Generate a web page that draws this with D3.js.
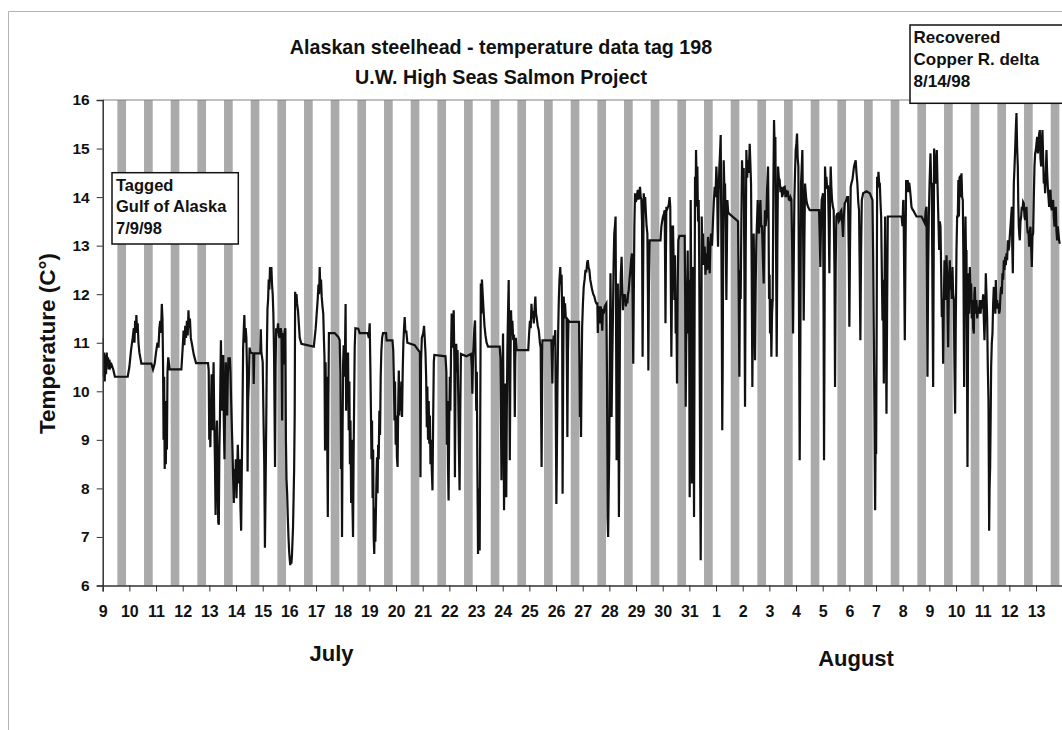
<!DOCTYPE html>
<html>
<head>
<meta charset="utf-8">
<script src="https://cdn.jsdelivr.net/npm/d3@7"></script>
<style>
  html, body { margin: 0; padding: 0; background: #ffffff; }
  svg { display: block; font-family: "Liberation Sans", Arial, Helvetica, sans-serif; font-weight: bold; }
</style>
</head>
<body>
<svg id="chart" width="1062" height="730"></svg>
<script>
// ---- data -------------------------------------------------------------
// Tag deployment window (UTC dates): tagged 7/9/98, recovered 8/14/98
const tagStart = Date.UTC(1998, 6, 9);
const tagEnd = Date.UTC(1998, 7, 14);

// Daily dark period, hours after midnight (shaded bands)
const nightStartHour = 13.2;
const nightEndHour = 21.0;

const tempTicks = [6, 7, 8, 9, 10, 11, 12, 13, 14, 15, 16];
const monthNames = ["July", "August"];
const titleLines = ["Alaskan steelhead - temperature data tag 198", "U.W. High Seas Salmon Project"];
const yAxisTitle = "Temperature (C\u00B0)";
const taggedNote = ["Tagged", "Gulf of Alaska", "7/9/98"];
const recoveredNote = ["Recovered", "Copper R. delta", "8/14/98"];

// Tag readings: [hours since 7/9/98 00:00, temperature °C]
const readings = [
  [0,11.1],[0.6,10.3],[1.2,10.8],[1.8,10.2],[2.4,10.75],[3,10.35],[3.6,10.8],[4.2,10.5],[4.8,10.7],[5.4,10.45],[6,10.65],[7,10.5],[8,10.55],[9.5,10.45],[11,10.3],[22.5,10.3],[24,10.5],[25.5,10.85],[27,11.1],[28,11.3],[28.6,11.0],[29.2,11.45],[29.8,11.2],[30.3,11.57],[30.9,11.25],[31.5,11.4],[32.2,11.0],[33,10.8],[34.8,10.57],[43.8,10.57],[45.3,10.45],[46.8,10.57],[48,10.8],[49.3,11.0],[50.2,10.9],[51,11.3],[51.8,11.45],[52.5,11.2],[53.2,11.8],[53.8,11.5],[54.3,10.6],[54.8,9.0],[55.3,10.3],[55.8,8.4],[56.3,9.8],[56.8,8.5],[57.3,9.4],[57.8,8.8],[58.3,10.4],[59,10.7],[60.3,10.45],[70.8,10.45],[72,10.9],[72.8,11.25],[73.5,10.95],[74.3,11.35],[75,11.1],[75.8,11.45],[76.5,11.15],[77.2,11.67],[77.8,11.3],[78.5,11.5],[79.3,11.1],[80.5,10.95],[82,10.75],[84,10.58],[94.8,10.58],
  [95.4,10.43],[95.9,9.0],[96.4,9.4],[96.9,8.85],[97.4,9.6],[98,10.35],[98.6,9.2],[99.2,9.8],[99.8,10.6],[100.4,9.4],[101,8.6],[101.6,7.45],[102.2,8.9],[102.8,9.4],[103.4,8.2],[104,7.3],[104.5,7.25],[105,8.8],[105.5,9.4],[106,10.4],[106.4,11.05],[106.9,10.2],[107.4,9.6],[107.9,10.4],[108.5,10.75],[109,9.4],[109.6,8.6],[110.2,9.8],[110.8,10.6],[111.4,9.9],[112,9.5],[112.6,10.3],[113.2,10.7],[113.8,10.55],[114.4,10.7],[115,10.4],[115.6,9.8],[116.2,9.3],[116.8,8.8],[117.4,8.2],[118,7.7],[118.6,8.4],[119.2,8.0],[119.8,8.6],[120.4,7.8],[121,8.3],[121.6,8.9],[122.2,8.4],[122.8,8.1],[123.4,8.6],[124,7.6],[124.6,7.13],[125.2,8.4],[125.8,9.6],[126.4,10.9],[127,11.3],[127.5,11.57],[128.1,11.0],[128.7,11.3],[129.3,11.1],[129.9,10.4],[130.4,8.35],[130.9,9.8],[131.5,10.2],[132.2,10.9],[133,10.8],[135.5,10.78],[135.9,10.15],[136.4,10.78],[141.8,10.78],[142.3,11.28],[142.8,10.8],[144,10.6],[144.8,9.3],[145.4,8.5],[146,6.78],[146.6,8.0],[147.2,9.4],[147.8,10.9],[148.3,11.7],[148.9,11.9],[149.4,12.3],[150,12.1],[150.6,12.56],[151.2,12.25],[151.8,12.56],[152.4,12.2],[153,12.0],[153.6,11.6],[154.2,10.8],[154.7,9.5],[155.1,8.44],[155.6,10.5],[156.1,11.3],[157,11.2],[157.8,11.4],[158.5,11.15],[159.3,11.1],[160.2,11.3],[160.9,11.2],[161.5,9.4],[162,11.2],[162.8,11.15],[163.3,10.55],[163.8,11.25],[164.4,11.3],[164.9,9.0],[165.4,8.2],[166,7.9],[166.6,7.4],[167.2,7.0],[167.8,6.7],[168.3,6.55],[168.8,6.42],[169.3,6.6],[169.8,6.45],[170.3,6.6],[170.8,6.9],[171.3,7.2],[171.8,7.8],[172.3,8.4],[172.8,9.5],[173.2,12.05],[173.8,11.85],[174.4,12.0],[175,11.8],[175.8,11.65],[176.5,11.4],[177.3,11.1],[178.8,10.98],[186,10.94],[190,10.92],
  [191.7,11.3],[192.6,11.6],[193.5,11.9],[194.2,12.2],[194.8,12.0],[195.3,12.56],[195.9,12.1],[196.5,12.3],[197.1,11.95],[197.8,11.75],[198.5,11.6],[199.2,11.0],[199.6,10.7],[200.1,8.78],[200.6,10.6],[201.1,9.4],[201.6,10.3],[202.1,8.9],[202.6,7.41],[203.1,9.8],[203.6,11.2],[208.8,11.2],[212,11.12],[213.3,11.05],[213.9,10.4],[214.4,8.4],[214.9,9.6],[215.4,7.0],[215.9,9.2],[216.4,10.6],[216.9,10.95],[217.5,10.3],[218.1,10.9],[218.6,11.8],[219.1,9.6],[219.6,10.7],[220.2,9.8],[220.8,10.8],[221.4,9.2],[222,10.2],[222.5,8.5],[223,9.4],[223.6,7.7],[224.2,9.0],[224.7,7.8],[225.3,7.0],[225.8,8.6],[226.3,9.8],[226.8,10.9],[227.4,11.3],[230,11.29],[231.3,11.2],[238.5,11.2],[239.5,11.1],[240.3,11.4],[240.9,10.5],[241.4,9.6],[241.9,8.6],[242.4,9.4],[242.9,7.8],[243.4,8.8],[243.9,7.0],[244.4,6.65],[244.9,7.6],[245.4,6.9],[245.9,7.55],[246.4,8.2],[246.9,8.64],[247.4,7.9],[247.9,8.9],[248.4,8.6],[249,9.6],[249.6,9.1],[250.2,10.3],[250.8,10.84],[251.5,11.1],[252.3,11.2],[255,11.2],[255.5,11.05],[260.8,11.05],[261.5,10.84],[262,10.3],[262.6,9.4],[263.1,10.2],[263.7,8.9],[264.3,9.5],[264.8,8.64],[265.4,8.44],[265.9,9.6],[266.5,10.43],[267,9.5],[267.6,10.1],[268.2,9.6],[268.8,10.2],[269.4,9.47],[270,10.4],[270.6,10.98],[271.2,11.3],[271.8,11.53],[272.4,11.2],[273.2,11.25],[274.2,11.0],[280.8,10.95],[284,10.85],[285.5,10.8],[286,8.23],[286.5,10.6],[287.2,11.1],[288.5,11.2],[289.2,11.35],[289.8,11.1],[290.5,10.8],[291.1,10.3],[291.7,9.26],[292.2,10.1],[292.8,9.0],[293.4,9.8],[293.9,8.92],[294.5,9.5],[295,8.5],[295.6,9.0],[296.2,8.37],[296.8,7.96],[297.4,9.4],[298,10.6],[298.5,10.75],[308.5,10.72],[309.3,10.4],[309.8,8.9],[310.3,9.8],[310.8,8.4],[311.3,7.75],[311.8,9.2],[312.4,10.3],[312.9,9.6],[313.5,10.8],[314.1,11.6],[314.7,10.9],[315.3,11.4],[315.9,11.67],[316.5,10.6],[317,8.23],[317.6,10.4],[318.2,10.98],[318.8,10.4],[319.4,10.85],[320,9.9],[320.6,8.8],[321.2,7.96],[321.8,9.6],[322.4,10.77],[327.3,10.72],[331.5,10.77],[332.2,10.5],[332.7,9.95],[333.3,10.7],[333.9,11.0],[334.5,11.3],[335.1,11.46],[335.7,10.5],[336.2,9.6],[336.7,10.4],[337.2,8.5],[337.8,6.65],[338.3,8.0],[338.8,7.2],[339.3,6.72],[339.8,9.5],[340.3,12.22],[340.8,11.6],[341.3,12.3],[342,12.0],[342.7,11.7],[343.6,11.35],[344.5,11.15],[345.5,11.0],[346.8,10.92],[357.3,10.92],
  [357.9,10.7],[358.4,9.6],[358.9,8.17],[359.4,9.9],[359.9,10.6],[360.3,11.19],[360.8,9.4],[361.2,7.55],[361.7,8.9],[362.2,10.16],[362.7,9.0],[363.2,7.82],[363.7,9.6],[364.2,10.85],[364.8,11.6],[365.4,12.29],[365.9,10.5],[366.4,8.58],[366.9,10.4],[367.5,11.67],[368.1,11.2],[368.7,11.45],[369.4,11.1],[370.2,11.12],[370.6,10.2],[370.9,9.47],[371.3,10.6],[371.8,11.1],[372.6,10.85],[383,10.85],[383.8,11.2],[384.5,11.45],[385.2,11.3],[385.9,11.8],[386.6,11.5],[387.3,11.65],[388,11.4],[388.7,11.7],[389.4,11.95],[390,11.6],[390.7,11.5],[391.5,11.35],[392.5,11.25],[393.5,11.0],[394.2,10.9],[394.6,9.5],[395,8.44],[395.4,9.8],[395.8,11.05],[403.8,11.05],[404.3,10.6],[404.7,10.16],[405.2,10.9],[405.9,11.15],[406.6,11.0],[407.3,11.26],[407.8,9.5],[408.3,7.68],[408.8,8.8],[409.3,10.16],[409.9,11.2],[410.5,11.88],[411.1,12.3],[411.8,12.56],[412.4,12.2],[413,12.4],[413.5,11.6],[413.9,7.89],[414.4,10.2],[414.9,11.95],[415.5,11.6],[416.1,11.81],[416.8,11.5],[417.4,11.53],[417.9,10.2],[418.2,9.06],[418.7,10.8],[419.2,11.46],[420.3,11.43],[428.7,11.43],[429.1,10.5],[429.5,9.47],[430,10.3],[430.5,9.06],[431,10.4],[431.5,11.33],[432.2,11.8],[432.9,12.15],[433.7,12.3],[434.5,12.5],[435.3,12.45],[436,12.65],[436.6,12.7],[437.3,12.55],[438,12.5],[438.8,12.3],[439.6,12.2],[440.4,12.1],[441.5,12.0],[442.5,11.95],[443.5,11.85],[444.3,11.81],[445.2,11.81],[445.6,11.2],[446,11.75],[447,11.7],[447.6,11.4],[448.2,11.75],[449,11.55],[449.6,11.25],[450.2,11.7],[451,11.6],[451.8,11.75],[453.3,11.81],[453.9,10.2],[454.4,7.41],[454.9,7.0],[455.4,8.0],[455.9,8.78],[456.4,10.8],[457,12.43],[457.5,11.2],[458,9.47],[458.6,10.6],[459.2,11.53],[459.8,12.6],[460.4,13.25],[461,13.4],[461.6,13.6],[462.1,11.0],[462.5,8.58],[463,10.5],[463.6,12.22],[464.1,10.2],[464.6,7.41],[465.1,9.5],[465.7,11.88],[466.3,12.4],[467,12.77],[467.6,12.2],[468.2,11.67],[468.8,12.0],[469.5,11.9],[470.1,12.0],[470.8,11.75],[471.5,11.9],[472.2,11.81],[472.8,12.0],[473.4,12.08],[474.1,12.3],[474.9,12.5],[475.6,12.7],[476.3,12.84],[476.9,12.0],[477.5,10.57],[478,12.0],[478.5,13.4],[479.1,14.08],[479.7,13.9],[480.3,13.94],[480.9,14.05],[481.6,14.15],[482.3,13.95],[483,14.1],[483.6,14.21],[484.2,14.0],[484.8,13.95],[485.4,13.5],[485.9,10.71],[486.4,12.5],[486.9,14.08],[487.5,13.9],[488.2,14.0],[488.8,13.7],[489.5,13.4],[490.2,13.25],[490.7,12.0],[491.1,10.43],[491.6,12.2],[492.3,13.11],[502,13.11],[502.8,13.39],[503.5,13.5],[504.3,13.6],[505,13.65],[505.8,13.73],[506.2,12.5],[506.5,11.4],[506.9,12.8],[507.3,13.8],[508,13.75],[508.8,13.8],[509.5,13.85],[510.2,14.0],[510.8,13.8],[511.3,12.2],[511.8,10.71],[512.3,12.0],[512.8,13.39],
  [513.3,13.39],[513.9,12.6],[514.5,11.88],[515.1,12.8],[515.7,11.19],[516.3,11.8],[516.9,10.16],[517.5,12.2],[518.1,13.11],[519,13.2],[523.8,13.2],[524.2,12.0],[524.7,9.68],[525.2,11.0],[525.9,11.88],[526.5,12.9],[527.1,11.19],[527.7,12.3],[528.3,7.82],[528.8,11.0],[529.2,13.94],[529.8,11.5],[530.4,8.1],[530.9,10.5],[531.3,12.56],[531.8,10.0],[532.2,7.41],[532.7,11.5],[533.1,14.42],[533.6,13.8],[534,14.97],[534.6,14.3],[535.2,14.63],[535.8,13.5],[536.4,13.94],[536.9,12.5],[537.3,10.5],[537.8,8.0],[538.2,6.52],[538.7,9.0],[539.1,13.6],[539.7,12.9],[540.3,13.25],[541,12.6],[541.8,12.98],[542.5,12.4],[543.3,12.84],[544,12.5],[544.8,13.18],[545.5,12.8],[546.3,12.43],[546.9,13.0],[547.5,13.25],[548.4,13.0],[549.3,13.53],[550,13.9],[550.8,14.21],[551.5,14.0],[552.3,14.63],[553,14.2],[553.5,13.3],[553.8,12.98],[554.4,14.1],[555,14.63],[555.6,14.9],[556.2,15.28],[556.7,13.5],[557.1,11.88],[557.6,9.2],[558,10.5],[558.5,13.5],[558.9,14.76],[559.5,14.2],[560.1,14.28],[560.7,13.3],[561.3,11.88],[561.8,13.0],[562.2,13.94],[562.9,13.7],[563.7,13.66],[571.8,13.5],[572.4,12.0],[573,10.3],[573.6,12.5],[574.2,11.9],[574.8,13.5],[575.4,14.76],[576.1,14.2],[576.9,14.6],[577.5,12.5],[578.1,9.68],[578.7,12.8],[579.3,14.97],[580,14.4],[580.8,14.76],[581.5,14.5],[582.3,15.1],[582.9,14.7],[583.5,14.28],[584.1,12.5],[584.7,10.09],[585.3,12.0],[585.9,13.25],[586.5,12.0],[587.1,10.64],[587.7,12.2],[588.3,13.11],[588.9,13.5],[589.5,13.94],[590.1,13.3],[590.7,13.25],[591.3,13.7],[591.9,13.94],[592.6,13.4],[593.4,13.4],[594.1,12.8],[594.9,12.22],[595.5,13.2],[596.1,13.73],[596.7,13.4],[597.3,13.6],[598,14.2],[598.8,14.63],[599.3,13.5],[599.7,11.9],[600.2,12.4],[600.6,11.19],[601.2,11.9],[601.8,10.71],[602.4,11.6],[603,11.88],[603.6,14.2],[604.2,15.59],[604.8,15.0],[605.4,15.24],[606,13.0],[606.6,10.71],[607.2,13.0],[607.8,14.63],[608.5,14.4],[609.3,14.35],[610,14.1],[610.8,14.21],[611.5,14.0],[612.3,14.08],[613,14.2],[613.8,14.21],[614.5,14.0],[615.3,14.15],[616,14.05],[616.8,14.08],[617.5,13.95],[618.3,13.94],[619,14.0],[619.8,13.95],[620.5,13.0],[621.3,11.19],[621.9,12.5],[622.5,13.94],[623.1,14.5],[623.7,14.97],[624.3,15.1],[624.9,15.31],[625.5,14.8],[626.1,14.63],[626.7,11.5],[627.3,8.58],[627.9,11.0],[628.5,14.28],[629.1,14.6],[629.7,14.97],[630.3,13.5],[630.9,11.46],[631.5,13.0],[632.1,14.28],[632.7,14.1],[633.3,13.94],[634.1,13.85],[634.8,13.8],[636.3,13.73],[644.7,13.73],[645.3,13.2],[645.9,12.56],[646.5,13.5],[647.1,13.94],[647.7,14.0],[648.3,14.08],[648.8,11.5],[649.2,8.58],[649.7,11.5],[650.1,14.63],[650.7,14.3],[651.3,14.42],[652,14.2],[652.8,14.21],[653.4,13.5],[654,12.43],[654.6,13.9],[655.2,14.63],[655.8,14.2],[656.4,13.94],[657.2,13.8],[657.9,13.73],[658.6,12.5],[659.1,10.09],[659.7,12.6],[660.3,13.6],[661,13.65],[661.8,13.66],[662.5,13.5],[663.3,13.53],[664,13.7],[664.8,13.73],[665.5,13.5],[666.3,13.18],[667,13.6],[667.8,13.87],[668.5,13.9],[669.3,13.94],[670,14.0],[670.8,14.0],[671.5,12.8],[672,11.33],[672.6,13.0],[673.2,14.21],[674,14.3],[674.7,14.35],[675.5,14.5],[676.2,14.63],[677,14.7],[677.7,14.76],[678.4,14.5],[679.2,14.28],[680,13.9],[680.7,13.73],[681.3,12.5],[681.9,11.05],[682.5,12.8],[683.2,13.94],
  [684.4,14.08],[687.4,14.12],[690.4,14.08],[692.8,13.94],[693.4,12.8],[694,11.19],[694.6,9.5],[695.2,7.55],[695.6,9.0],[696.1,8.71],[696.6,11.5],[697,14.42],[697.6,14.2],[698.2,14.52],[698.8,14.3],[699.4,14.28],[700,13.9],[700.6,13.6],[701.2,12.5],[701.8,11.46],[702.4,12.3],[703,10.16],[703.6,12.0],[704.2,13.6],[704.8,11.5],[705.4,9.54],[706,11.8],[706.6,13.6],[708.4,13.6],[719,13.6],[719.8,13.4],[720.4,13.9],[720.7,13.94],[721.3,12.5],[721.9,11.05],[722.5,12.8],[723.1,14.35],[723.8,14.1],[724.5,14.35],[725.2,14.1],[725.8,14.3],[726.4,14.2],[727.2,14.0],[727.9,13.8],[728.7,13.75],[729.4,13.73],[732.4,13.6],[737,13.6],[739.9,13.46],[740.6,13.7],[741.4,13.8],[741.9,12.0],[742.3,10.3],[742.9,12.5],[743.5,13.6],[744.2,14.3],[745,14.9],[745.6,14.3],[746.2,14.28],[746.8,12.0],[747.4,10.09],[747.9,12.8],[748.3,15.0],[748.9,14.4],[749.5,14.28],[750.1,14.7],[750.7,14.97],[751.3,14.3],[751.9,13.73],[752.4,13.3],[752.8,12.91],[753.4,13.5],[754,13.4],[754.6,12.5],[755.2,11.53],[755.8,11.9],[756.4,10.57],[757,11.8],[757.6,12.7],[758.2,12.2],[758.8,11.88],[759.4,12.8],[760,12.43],[760.5,11.5],[760.9,10.91],[761.6,12.2],[762.4,12.7],[763,12.1],[763.6,12.22],[764.2,11.9],[764.8,12.56],[765.4,12.0],[766,11.88],[766.6,10.5],[767.2,9.54],[767.8,11.5],[768.4,12.9],[769,13.6],[769.6,13.6],[770.1,14.35],[770.6,13.6],[771.1,14.4],[771.7,14.42],[772.3,14.0],[772.9,14.49],[773.5,14.0],[774.1,13.94],[774.7,12.5],[775.3,10.09],[775.9,12.5],[776.5,13.6],[777,12.7],[777.4,12.91],[777.9,10.5],[778.3,8.44],[778.8,11.0],[779.2,12.43],[779.8,11.6],[780.4,12.56],[781,12.0],[781.6,12.22],[782.2,11.5],[782.8,11.88],[783.4,11.3],[784,11.19],[784.5,12.0],[784.9,12.15],[785.6,11.6],[786.4,11.88],[787.1,11.5],[787.9,11.74],[788.6,11.6],[789.4,11.88],[790.1,11.6],[790.9,11.88],[791.6,11.7],[792.4,12.0],[793,11.5],[793.6,11.05],[794.2,11.6],[794.8,12.43],[795.4,12.0],[796,11.53],[796.6,10.5],[797.2,9.81],[797.5,8.5],[797.8,7.13],[798.2,8.0],[798.7,8.44],[799.2,9.5],[799.6,10.5],[800.2,11.0],[800.8,11.19],[801.4,11.8],[802,12.15],[802.5,11.7],[802.9,11.88],[803.4,11.6],[803.8,12.29],[804.4,11.7],[805,11.88],[805.6,11.7],[806.2,11.81],[806.8,11.6],[807.4,11.67],[808,12.0],[808.6,12.15],[809.2,12.0],[809.8,12.43],[810.4,12.3],[811,12.7],[811.6,12.5],[812.2,12.77],[812.8,12.6],[813.4,12.84],[814,12.7],[814.6,13.11],[815.2,12.9],[815.8,12.98],[816.4,13.2],[817,13.39],[817.6,13.6],[818.2,13.8],[818.6,13.0],[819.1,12.43],[819.6,13.5],[820,14.28],[820.6,14.6],[821.2,14.97],[821.8,15.4],[822.4,15.73],[823,15.0],[823.6,14.63],[824,13.9],[824.5,13.39],[825,13.2],[825.4,13.11],[826,13.5],[826.6,13.6],[827.2,13.8],[827.8,13.73],[828.4,13.9],[829,13.87],[829.6,13.6],[830.2,13.53],[830.8,13.7],[831.4,13.8],[832,13.4],[832.6,13.25],[833.2,13.3],[833.8,12.98],[834.4,13.3],[835,13.39],[835.6,13.0],[836.2,12.56],[836.8,13.2],[837.4,13.25],[838,14.0],[838.6,14.63],[839.2,14.9],[839.8,14.97],[840.4,15.1],[841,15.24],[841.6,14.9],[842.2,15.04],[842.8,15.3],[843.4,15.38],[844,14.8],[844.6,14.63],[845.2,15.1],[845.8,15.38],[846.4,14.8],[847,14.28],[847.6,14.4],[848.2,14.08],[848.8,14.5],[849.4,14.97],[850,14.5],[850.6,14.21],[851.2,14.0],[851.8,13.8],[852.4,14.1],[853,14.15],[853.6,13.8],[854.2,13.73],[854.8,13.9],[855.4,13.94],[856,13.6],[856.6,13.39],[857.2,13.6],[857.8,13.8],[858.4,13.3],[859,13.11],[859.6,13.4],[860.2,13.25],[860.8,13.1],[861.4,13.04]
];

// ---- layout -----------------------------------------------------------
const HOUR = 3600 * 1000;
const plot = { left: 102.7, right: 1062.7, top: 100, bottom: 585.5 };
const ink = "#111";

const svg = d3.select("#chart");

const x = d3.scaleUtc().domain([tagStart, tagEnd]).range([plot.left, plot.right]);
const y = d3.scaleLinear().domain([6, 16]).range([plot.bottom, plot.top]);

// page frame
svg.append("rect").attr("x", 0).attr("y", 0).attr("width", 1062).attr("height", 730).attr("fill", "#ffffff");
svg.append("path")
  .attr("d", "M8.5,730 V11.5 H1062")
  .attr("fill", "none").attr("stroke", "#b4b4b4").attr("stroke-width", 1);

// clip for the plot area
svg.append("clipPath").attr("id", "plotClip")
  .append("rect").attr("x", plot.left).attr("y", plot.top - 1)
  .attr("width", plot.right - plot.left).attr("height", plot.bottom - plot.top + 2);

// night bands
const days = d3.utcDay.range(tagStart, tagEnd);
svg.append("g").attr("clip-path", "url(#plotClip)")
  .selectAll("rect").data(days).join("rect")
  .attr("x", d => x(new Date(+d + nightStartHour * HOUR)))
  .attr("width", d => x(new Date(+d + nightEndHour * HOUR)) - x(new Date(+d + nightStartHour * HOUR)))
  .attr("y", plot.top)
  .attr("height", plot.bottom - plot.top)
  .attr("fill", "#aaaaaa");

// top border of plot area
svg.append("line")
  .attr("x1", plot.left).attr("x2", 1062).attr("y1", plot.top).attr("y2", plot.top)
  .attr("stroke", "#808080").attr("stroke-width", 1);

// temperature trace
const line = d3.line()
  .x(d => x(new Date(tagStart + d[0] * HOUR)))
  .y(d => y(d[1]));
svg.append("path")
  .datum(readings)
  .attr("clip-path", "url(#plotClip)")
  .attr("d", line)
  .attr("fill", "none")
  .attr("stroke", ink)
  .attr("stroke-width", 2.2)
  .attr("stroke-linejoin", "miter");

// axes
const xAxis = d3.axisBottom(x)
  .tickValues(days)
  .tickFormat(d3.utcFormat("%-d"))
  .tickSize(6).tickPadding(14);
const gx = svg.append("g").attr("transform", `translate(0,${plot.bottom})`).call(xAxis);
gx.select(".domain").attr("stroke", "#333").attr("stroke-width", 1.5);
gx.selectAll(".tick line").attr("stroke", "#333").attr("stroke-width", 1);
gx.selectAll(".tick text")
  .attr("fill", ink)
  .style("font-size", "16px")
  .style("font-weight", "bold")
  .style("font-family", "'Liberation Sans', Arial, sans-serif");

const yAxis = d3.axisLeft(y).tickValues(tempTicks).tickSize(6).tickPadding(7);
const gy = svg.append("g").attr("transform", `translate(${plot.left},0)`).call(yAxis);
gy.select(".domain").attr("stroke", "#333").attr("stroke-width", 1.5);
gy.selectAll(".tick line").attr("stroke", "#333").attr("stroke-width", 1);
gy.selectAll(".tick text")
  .attr("fill", ink)
  .style("font-size", "15.5px")
  .style("font-weight", "bold")
  .style("font-family", "'Liberation Sans', Arial, sans-serif");

// titles
svg.append("g").selectAll("text").data(titleLines).join("text")
  .attr("x", 501)
  .attr("y", (d, i) => 54 + i * 30)
  .attr("text-anchor", "middle")
  .attr("fill", ink)
  .style("font-size", "19.7px")
  .text(d => d);

svg.append("text")
  .attr("transform", "translate(55,343.5) rotate(-90)")
  .attr("text-anchor", "middle")
  .attr("fill", ink)
  .style("font-size", "22.5px")
  .text(yAxisTitle);

// month labels, centred under their span of days
const monthCenter = [
  new Date(Date.UTC(1998, 6, 17, 14)),
  new Date(Date.UTC(1998, 7, 6, 6))
];
svg.append("g").selectAll("text").data(monthNames).join("text")
  .attr("x", (d, i) => x(monthCenter[i]))
  .attr("y", (d, i) => 661 + i * 5)
  .attr("text-anchor", "middle")
  .attr("fill", ink)
  .style("font-size", "22px")
  .text(d => d);

// annotation boxes
function noteBox(lines, bx, by, bw, bh, tx, ty, step, size) {
  const g = svg.append("g");
  g.append("rect")
    .attr("x", bx).attr("y", by).attr("width", bw).attr("height", bh)
    .attr("fill", "#ffffff").attr("stroke", ink).attr("stroke-width", 1.5);
  g.selectAll("text").data(lines).join("text")
    .attr("x", tx).attr("y", (d, i) => ty + i * step)
    .attr("fill", ink)
    .style("font-size", size + "px")
    .text(d => d);
}
noteBox(taggedNote, 112, 172.7, 126.3, 71.3, 116, 190.5, 21.8, 16.5);
noteBox(recoveredNote, 910, 25, 170, 78.3, 913.5, 42.7, 22.3, 17);
</script>
</body>
</html>
